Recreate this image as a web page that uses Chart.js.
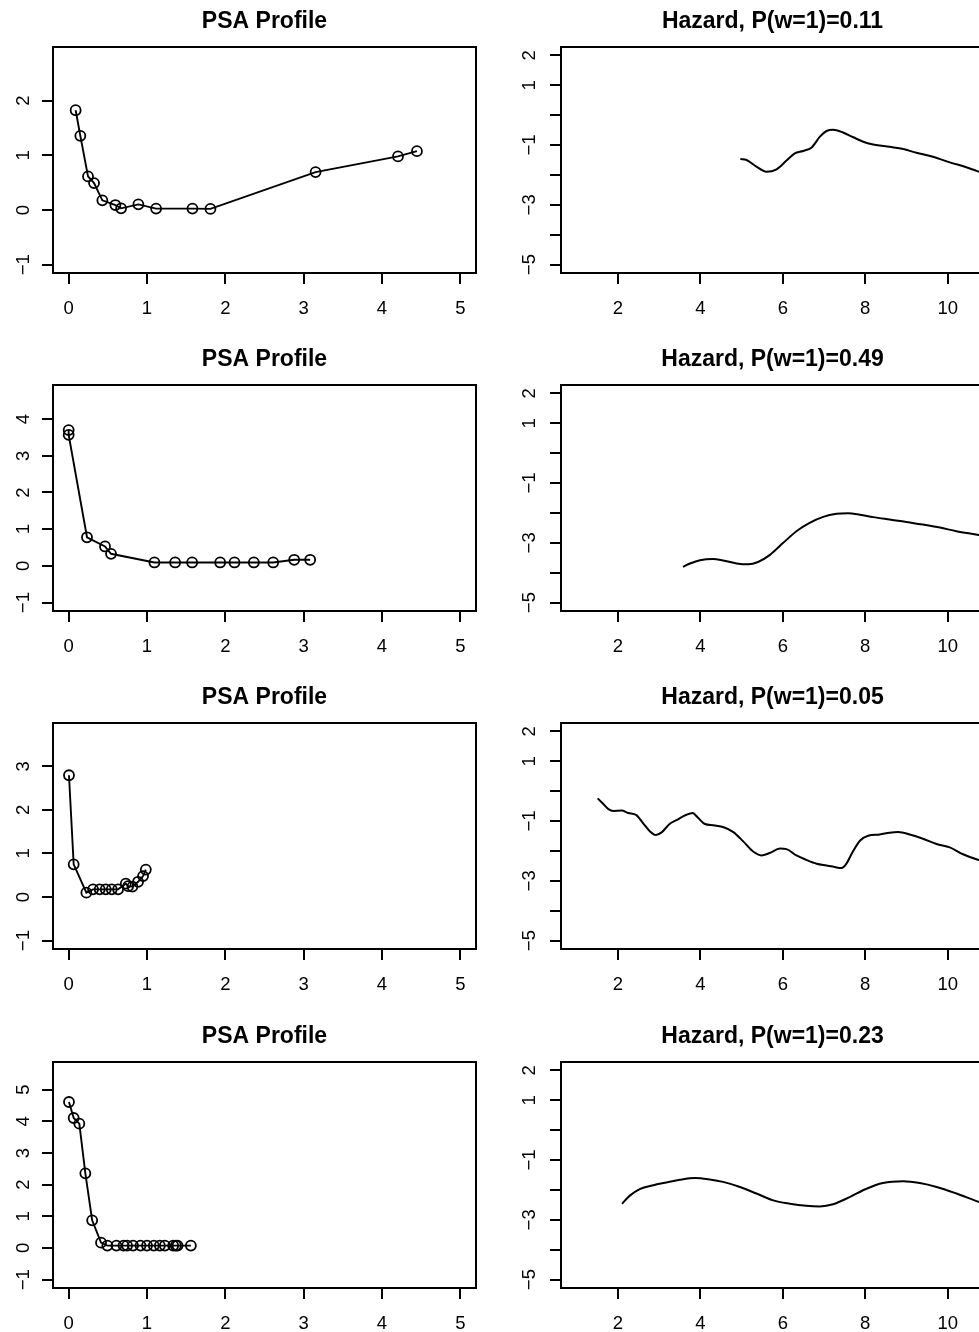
<!DOCTYPE html>
<html><head><meta charset="utf-8">
<script src="https://cdn.jsdelivr.net/npm/chart.js@4.4.1/dist/chart.umd.min.js"></script>
<style>
html,body{margin:0;padding:0;background:#fff;overflow:hidden;width:979px;height:1332px;position:relative;}
canvas{position:absolute;}
</style></head><body>
<script>
// ---------- data ----------
const psaTitle = "PSA Profile";
const hazTitles = ["Hazard, P(w=1)=0.11", "Hazard, P(w=1)=0.49", "Hazard, P(w=1)=0.05", "Hazard, P(w=1)=0.23"];

const psa1X = [0.089,0.149,0.247,0.324,0.430,0.596,0.669,0.890,1.116,1.580,1.810,3.152,4.204,4.446];
const psa1Y = [1.826,1.357,0.615,0.493,0.177,0.091,0.030,0.103,0.026,0.026,0.020,0.694,0.980,1.077];

const psa2X = [0.000,0.000,0.234,0.464,0.541,1.095,1.359,1.576,1.934,2.117,2.364,2.611,2.879,3.083];
const psa2Y = [3.700,3.570,0.780,0.530,0.330,0.094,0.094,0.094,0.094,0.094,0.094,0.094,0.167,0.167];

const psa3X = [0.004,0.064,0.226,0.311,0.396,0.473,0.550,0.631,0.729,0.759,0.814,0.886,0.950,0.985];
const psa3Y = [2.794,0.750,0.100,0.176,0.176,0.176,0.176,0.176,0.306,0.250,0.240,0.350,0.480,0.630];

const psa4X = [0.004,0.064,0.136,0.213,0.300,0.413,0.494,0.610,0.700,0.746,0.822,0.917,1.000,1.087,1.164,1.228,1.334,1.368,1.390,1.560];
const psa4Y = [4.610,4.105,3.926,2.358,0.874,0.168,0.075,0.075,0.075,0.075,0.075,0.075,0.075,0.075,0.075,0.075,0.075,0.075,0.075,0.075];

const haz1X = [4.97,5.12,5.36,5.60,5.85,6.09,6.29,6.49,6.70,6.90,7.06,7.22,7.46,7.71,7.95,8.19,8.59,8.92,9.24,9.64,10.05,10.45,10.75,10.86];
const haz1Y = [-1.47,-1.50,-1.72,-1.89,-1.81,-1.52,-1.28,-1.20,-1.08,-0.72,-0.53,-0.49,-0.58,-0.74,-0.89,-0.98,-1.06,-1.13,-1.26,-1.39,-1.58,-1.74,-1.89,-1.95];

const haz2X = [3.58,3.75,3.99,4.31,4.55,4.88,5.16,5.40,5.68,6.01,6.33,6.65,6.98,7.30,7.58,7.87,8.19,8.59,9.00,9.40,9.81,10.21,10.75,10.86];
const haz2Y = [-3.80,-3.69,-3.58,-3.54,-3.59,-3.69,-3.72,-3.64,-3.41,-3.00,-2.61,-2.33,-2.13,-2.03,-2.01,-2.06,-2.14,-2.22,-2.30,-2.39,-2.49,-2.61,-2.74,-2.77];

const haz3X = [1.51,1.64,1.77,1.89,2.09,2.25,2.45,2.61,2.78,2.92,3.06,3.26,3.46,3.66,3.81,3.95,4.11,4.31,4.55,4.80,5.04,5.28,5.48,5.68,5.93,6.09,6.33,6.57,6.82,7.06,7.26,7.42,7.54,7.70,7.87,8.07,8.35,8.59,8.80,9.08,9.40,9.73,10.05,10.37,10.75,10.86];
const haz3Y = [-0.24,-0.42,-0.60,-0.66,-0.65,-0.73,-0.80,-1.07,-1.35,-1.47,-1.38,-1.09,-0.94,-0.79,-0.73,-0.90,-1.10,-1.14,-1.20,-1.37,-1.68,-2.02,-2.15,-2.07,-1.92,-1.94,-2.15,-2.30,-2.43,-2.49,-2.54,-2.57,-2.43,-2.02,-1.66,-1.49,-1.45,-1.39,-1.37,-1.45,-1.59,-1.77,-1.88,-2.11,-2.30,-2.33];

const haz4X = [2.10,2.29,2.53,2.86,3.18,3.50,3.87,4.23,4.55,4.96,5.36,5.77,6.17,6.57,6.90,7.22,7.62,8.03,8.43,8.92,9.32,9.73,10.21,10.75,10.86];
const haz4Y = [-2.46,-2.19,-1.97,-1.84,-1.75,-1.66,-1.60,-1.65,-1.73,-1.90,-2.12,-2.35,-2.46,-2.53,-2.55,-2.48,-2.24,-1.96,-1.77,-1.71,-1.77,-1.90,-2.12,-2.40,-2.45];

// tick labels and axis limits
const psaXTicks = [0,1,2,3,4,5];
const psaXLim = [-0.2, 5.2];
const psaYTicks = [[-1,0,1,2],[-1,0,1,2,3,4],[-1,0,1,2,3],[-1,0,1,2,3,4,5]];
const psaYLim = [[-1.153,2.983],[-1.228,4.928],[-1.192,3.992],[-1.264,5.874]];
const hazXTicks = [2,4,6,8,10];
const hazXLim = [0.62, 10.88];
const hazYTicks = [-5,-4,-3,-2,-1,0,1,2];
const hazYLabelled = [2,1,-1,-3,-5];
const hazYLim = [-5.28, 2.28];

// ---------- drawing ----------
const FONT = "'Liberation Sans', Arial, Helvetica, sans-serif";
const fmt = v => (v < 0 ? '\u2212' + Math.abs(v) : String(v));
const zip = (xs, ys) => xs.map((x, i) => ({x, y: ys[i]}));

const boxPlugin = {
  id: 'rbox',
  afterDatasetsDraw(chart) {
    const {ctx, chartArea: a} = chart;
    ctx.save();
    ctx.strokeStyle = '#000';
    ctx.lineWidth = 2;
    ctx.strokeRect(a.left, a.top, a.right - a.left, a.bottom - a.top);
    ctx.restore();
  }
};

function panel(opts) {
  const c = document.createElement('canvas');
  c.width = opts.w; c.height = opts.h;
  c.style.left = opts.left + 'px'; c.style.top = opts.top + 'px';
  c.style.width = opts.w + 'px'; c.style.height = opts.h + 'px';
  document.body.appendChild(c);
  const gridCfg = {drawOnChartArea: false, drawTicks: true, tickLength: 11, color: '#000', lineWidth: 2};
  new Chart(c, {
    type: 'scatter',
    data: {datasets: [opts.dataset]},
    options: {
      responsive: false, animation: false, devicePixelRatio: 1,
      layout: {padding: {left: 0, right: opts.padRight, top: 0, bottom: 0}},
      plugins: {
        legend: {display: false}, tooltip: {enabled: false},
        title: {display: true, text: opts.title, fullSize: false, color: '#000',
          font: {family: FONT, size: 23, weight: 'bold'}, padding: {top: 7.5, bottom: 11.9}}
      },
      scales: {
        x: {
          type: 'linear', min: opts.xLim[0], max: opts.xLim[1],
          afterBuildTicks: s => { s.ticks = opts.xTicks.map(v => ({value: v})); },
          afterFit: s => { s.height = 60; },
          grid: gridCfg, border: {display: false},
          ticks: {font: {family: FONT, size: 18.5}, color: '#000', padding: 14, maxRotation: 0, autoSkip: false,
            callback: v => fmt(v)}
        },
        y: {
          type: 'linear', min: opts.yLim[0], max: opts.yLim[1],
          afterBuildTicks: s => { s.ticks = opts.yTicks.map(v => ({value: v})); },
          afterFit: s => { s.width = opts.yWidth; },
          grid: gridCfg, border: {display: false},
          ticks: {font: {family: FONT, size: 18.5}, color: '#000', padding: opts.yPad, minRotation: 90, maxRotation: 90,
            crossAlign: 'center', autoSkip: false,
            callback: v => (opts.yLabelled ? (opts.yLabelled.includes(v) ? fmt(v) : '') : fmt(v))}
        }
      }
    },
    plugins: [boxPlugin]
  });
}

const rowTops = [0, 338, 676, 1015];
const psaSets = [[psa1X, psa1Y], [psa2X, psa2Y], [psa3X, psa3Y], [psa4X, psa4Y]];
const hazSets = [[haz1X, haz1Y], [haz2X, haz2Y], [haz3X, haz3Y], [haz4X, haz4Y]];

psaSets.forEach((d, i) => {
  panel({
    left: 0, top: rowTops[i], w: 490, h: 333, padRight: 14, yWidth: 53, yPad: 7.5,
    title: psaTitle, xLim: psaXLim, xTicks: psaXTicks, yLim: psaYLim[i], yTicks: psaYTicks[i],
    dataset: {data: zip(d[0], d[1]), showLine: true, borderColor: '#000', borderWidth: 1.9,
      pointRadius: 5, pointBorderWidth: 1.8, pointBorderColor: '#000', pointBackgroundColor: 'rgba(0,0,0,0)',
      pointStyle: 'circle', tension: 0}
  });
});

hazSets.forEach((d, i) => {
  panel({
    left: 490, top: rowTops[i], w: 504, h: 333, padRight: 10, yWidth: 71, yPad: 10,
    title: hazTitles[i], xLim: hazXLim, xTicks: hazXTicks, yLim: hazYLim, yTicks: hazYTicks, yLabelled: hazYLabelled,
    dataset: {data: zip(d[0], d[1]), showLine: true, borderColor: '#000', borderWidth: 2,
      pointRadius: 0, cubicInterpolationMode: 'monotone'}
  });
});
</script>
</body></html>
